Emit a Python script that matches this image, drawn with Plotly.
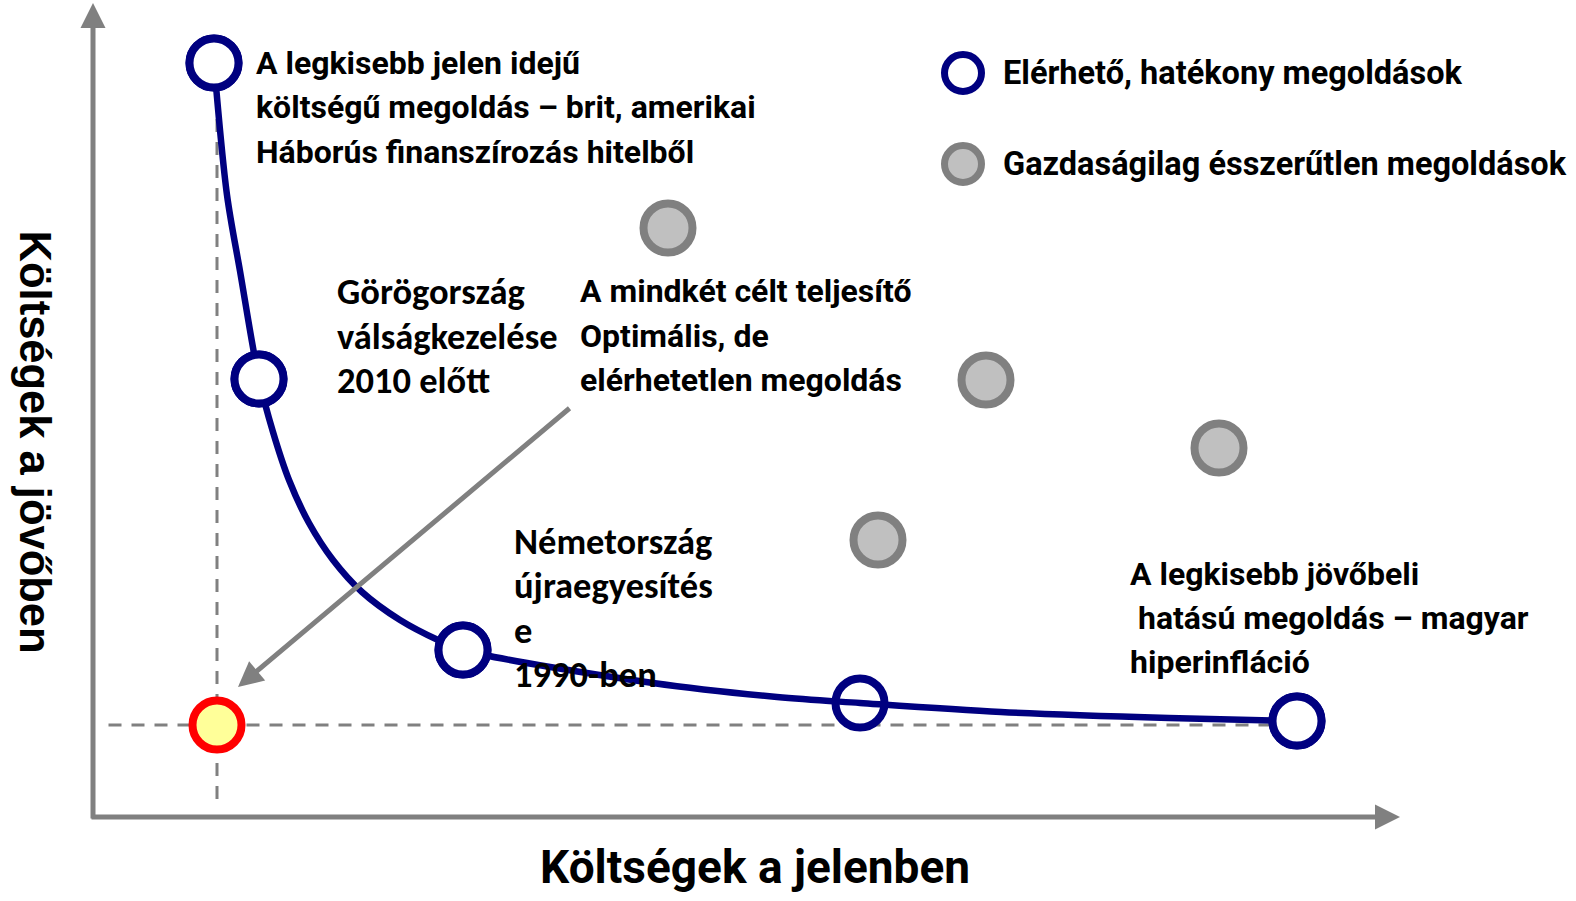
import plotly.graph_objects as go

# ---- data (x: costs in present, y: costs in future; arbitrary units) ----
# efficient ("reachable") solutions
eff_x = [12.1, 16.6, 37.0, 76.7, 120.4]
eff_y = [75.4, 43.8, 16.7, 11.4, 9.6]
# frontier curve
curve_x = [12.1, 13.4, 14.7, 16.6, 18.0, 19.6, 21.6, 24.0, 26.9, 30.7, 34.5, 37.0,
           56.0, 68.4, 76.7, 90.8, 107.6, 120.4]
curve_y = [75.4, 62.2, 54.6, 43.8, 38.5, 33.7, 29.4, 25.7, 22.5, 19.7, 17.7, 16.7,
           13.4, 12.0, 11.4, 10.5, 9.9, 9.6]
# economically unreasonable solutions
ineff_x = [57.5, 89.3, 78.5, 112.6]
ineff_y = [58.9, 43.7, 27.7, 36.9]
# optimal but unreachable solution
opt_x = [12.4]
opt_y = [9.2]

legend_labels = ["Elérhető, hatékony megoldások", "Gazdaságilag ésszerűtlen megoldások"]

NARROW = "Roboto, Liberation Sans, Arial, sans-serif"
CALIB = "Carlito, Calibri, Lato, sans-serif"
ARIAL = "Liberation Sans, Arial, sans-serif"
NAVY = "#000080"
GRAY = "#808080"
MS, MW = 49, 8

fig = go.Figure()

# efficient points (under the curve)
fig.add_trace(go.Scatter(
    x=eff_x, y=eff_y, mode="markers",
    marker=dict(size=MS, color="white", line=dict(color=NAVY, width=MW)),
    cliponaxis=False, showlegend=False, hoverinfo="skip"))
# frontier curve
fig.add_trace(go.Scatter(
    x=curve_x, y=curve_y, mode="lines",
    line=dict(color=NAVY, width=6.5, shape="spline", smoothing=0.9),
    cliponaxis=False, showlegend=False, hoverinfo="skip"))
# efficient points drawn over the curve (all except the 4th one)
over = [0, 1, 2, 4]
fig.add_trace(go.Scatter(
    x=[eff_x[i] for i in over], y=[eff_y[i] for i in over], mode="markers",
    marker=dict(size=MS, color="white", line=dict(color=NAVY, width=MW)),
    cliponaxis=False, showlegend=False, hoverinfo="skip"))

# inefficient points
fig.add_trace(go.Scatter(
    x=ineff_x, y=ineff_y, mode="markers",
    marker=dict(size=MS, color="#c0c0c0", line=dict(color=GRAY, width=MW)),
    cliponaxis=False, showlegend=False, hoverinfo="skip"))

# optimal (unreachable) point
fig.add_trace(go.Scatter(
    x=opt_x, y=opt_y, mode="markers",
    marker=dict(size=MS, color="#ffff99", line=dict(color="#ff0000", width=MW)),
    cliponaxis=False, showlegend=False, hoverinfo="skip"))

# legend symbols
LEG_X = 87.0
LEG_Y = [74.4, 65.3]
fig.add_trace(go.Scatter(
    x=[LEG_X], y=[LEG_Y[0]], mode="markers",
    marker=dict(size=37, color="white", line=dict(color=NAVY, width=7)),
    cliponaxis=False, showlegend=False, hoverinfo="skip"))
fig.add_trace(go.Scatter(
    x=[LEG_X], y=[LEG_Y[1]], mode="markers",
    marker=dict(size=37, color="#c0c0c0", line=dict(color=GRAY, width=7)),
    cliponaxis=False, showlegend=False, hoverinfo="skip"))

shapes = [
    dict(type="line", xref="x", yref="y", x0=opt_x[0], x1=opt_x[0], y0=1.8, y1=70.0,
         line=dict(color=GRAY, width=3, dash="13px,10px"), layer="below"),
    dict(type="line", xref="x", yref="y", x0=1.55, x1=eff_x[-1], y0=opt_y[0], y1=opt_y[0],
         line=dict(color=GRAY, width=3, dash="13px,10px"), layer="below"),
]

annotations = []

def arrow(x, y, ax, ay, w=5, size=1.0):
    annotations.append(dict(x=x, y=y, ax=ax, ay=ay, xref="x", yref="y", axref="x", ayref="y",
                            text="", showarrow=True, arrowhead=2, arrowsize=size,
                            arrowwidth=w, arrowcolor=GRAY, standoff=0, startstandoff=0))

# axes arrows
arrow(0, 81.4, 0, -0.3)
arrow(130.7, 0, -0.3, 0)
# pointer arrow to the optimal point
arrow(14.5, 13.0, 47.8, 41.0)

def lines(x, ys, texts, font, size):
    for y, t in zip(ys, texts):
        annotations.append(dict(x=x, y=y, xref="x", yref="y", text=t, showarrow=False,
                                xanchor="left", yanchor="middle",
                                font=dict(family=font, size=size, color="black")))

NS = 32
lines(16.1, [75.4, 71.0, 66.5],
      ["<b>A legkisebb jelen idejű</b>",
       "<b>költségű megoldás – brit, amerikai</b>",
       "<b>Háborús finanszírozás hitelből</b>"], NARROW, NS)
lines(24.2, [52.6, 48.1, 43.7],
      ["<b>Görögország</b>", "<b>válságkezelése</b>", "<b>2010 előtt</b>"], CALIB, 36.5)
lines(48.5, [52.6, 48.1, 43.7],
      ["<b>A mindkét célt teljesítő</b>", "<b>Optimális, de</b>",
       "<b>elérhetetlen megoldás</b>"], NARROW, NS)
lines(41.9, [27.6, 23.2, 18.7, 14.3],
      ["<b>Németország</b>", "<b>újraegyesítés</b>", "<b>e</b>", "<b>1990-ben</b>"], CALIB, 36.5)
lines(103.5, [24.3, 19.9, 15.5],
      ["<b>A legkisebb jövőbeli</b>", "<b>\u00a0hatású megoldás – magyar</b>",
       "<b>hiperinfláció</b>"], NARROW, NS)
# legend texts
lines(90.8, LEG_Y, ["<b>%s</b>" % t for t in legend_labels], NARROW, 32.5)

# axis titles
annotations.append(dict(x=0.5065, y=-0.062, xref="paper", yref="paper", xanchor="center", yanchor="middle",
                        text="<b>Költségek a jelenben</b>", showarrow=False,
                        font=dict(family=NARROW, size=46, color="black")))
annotations.append(dict(x=-0.0444, y=0.46, xref="paper", yref="paper", xanchor="center", yanchor="middle",
                        text="<b>Költségek a jövőben</b>", showarrow=False, textangle=90,
                        font=dict(family=ARIAL, size=43.5, color="black")))

fig.update_layout(
    width=1576, height=901,
    margin=dict(l=93, r=176, t=3, b=84),
    paper_bgcolor="white", plot_bgcolor="white",
    xaxis=dict(range=[0, 130.7], visible=False, fixedrange=True),
    yaxis=dict(range=[0, 81.4], visible=False, fixedrange=True),
    shapes=shapes, annotations=annotations,
)

fig.write_html("out.html", config={"displayModeBar": False},
               post_script="document.body.style.margin='0';")
